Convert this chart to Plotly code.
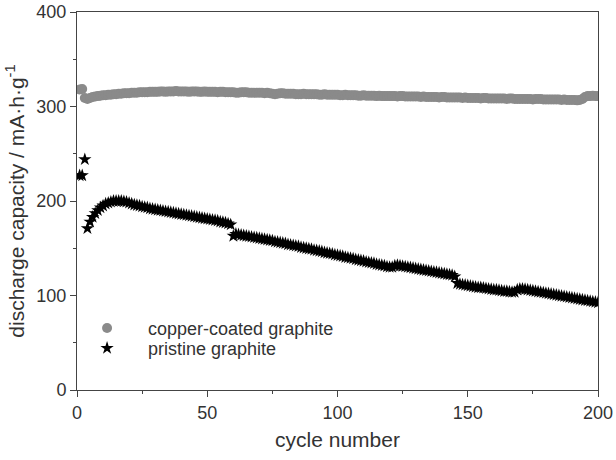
import plotly.graph_objects as go

cycles = list(range(1, 201))

copper_coated = [
    318, 318.5, 309, 308, 309, 310, 310.5, 311, 311.5, 312,
    312, 312.5, 312.5, 313, 313, 313.5, 313.5, 314, 314, 314,
    314.5, 314.5, 314.5, 315, 315, 315, 315, 315.5, 315.5, 315.5,
    315.5, 316, 316, 315.5, 316, 316, 316, 316.5, 316, 316,
    316, 316, 315.5, 316, 316, 316, 315.5, 315.5, 316, 315.5,
    315.5, 315.5, 315.5, 315, 315.5, 315.5, 315, 315, 315, 315,
    314.5, 314.5, 315, 315, 315, 314.5, 314.5, 314.5, 314.5, 314.5,
    314.5, 314, 314.5, 314, 313.5, 313, 313.5, 314, 314, 313.5,
    313.5, 313.5, 313.5, 313, 313, 313, 313.5, 313, 313, 313,
    313, 313, 312.5, 312.5, 313, 312.5, 312.5, 312.5, 312.5, 312.5,
    312, 312, 312.5, 312, 312, 312, 312, 311.5, 311.5, 312,
    311.5, 311.5, 311.5, 311.5, 311, 311.5, 311, 311, 311, 311,
    311, 311, 310.5, 311, 311, 310.5, 310.5, 310.5, 310.5, 310.5,
    310.5, 310, 310.5, 310, 310, 310, 310, 310, 309.5, 310,
    310, 309.5, 309.5, 309.5, 309.5, 309.5, 309.5, 309, 309.5, 309,
    309, 309, 309, 309, 308.5, 309, 309, 308.5, 308.5, 308.5,
    308.5, 308.5, 308.5, 308.5, 308, 308.5, 308.5, 308, 308, 308,
    308, 308, 308, 308, 307.5, 308, 308, 308, 307.5, 307.5,
    307.5, 307.5, 307.5, 307.5, 307.5, 307, 307.5, 307, 307, 307,
    307, 306.5, 307, 308, 310, 311, 311, 311.5, 311, 311,
]

pristine = [
    227, 227, 244, 171, 178, 183, 187, 190, 193, 195,
    197, 198, 199, 200, 200, 200, 200, 199.5, 199, 198,
    197, 196, 195.5, 195, 194, 193.5, 193, 192, 191.5, 191,
    190.5, 190, 189.5, 189, 188.5, 188, 187.5, 187, 186.5, 186,
    185.5, 185, 184.5, 184, 183.5, 183, 182.5, 182, 181.5, 181,
    180.5, 180, 179.5, 179, 178, 177.5, 177, 176, 175, 163,
    165, 164.5, 164, 163.5, 163, 162.5, 162, 161.5, 161, 160.5,
    160, 159.5, 159, 158.5, 158, 157, 156.5, 156, 155.5, 155,
    154, 153.5, 153, 152.5, 152, 151, 150.5, 150, 149.5, 149,
    148, 147.5, 147, 146.5, 145.5, 145, 144.5, 144, 143, 142.5,
    142, 141.5, 140.5, 140, 139.5, 139, 138, 137.5, 137, 136.5,
    135.5, 135, 134.5, 134, 133, 132.5, 132, 131.5, 130.5, 130,
    130, 131.5, 132, 131.5, 131, 130.5, 130, 129.5, 129, 128.5,
    128, 127.5, 127, 126.5, 126, 125.5, 125, 124.5, 124, 123.5,
    123, 122.5, 122, 121.5, 120, 113, 112, 111.5, 111, 110.5,
    110, 109.5, 109, 108.5, 108.5, 108, 107.5, 107, 106.5, 106,
    106, 105.5, 105, 104.5, 104.5, 104, 103.5, 103.5, 106, 107,
    107, 106.5, 106, 105.5, 105, 104.5, 104, 103.5, 103, 102.5,
    102, 101.5, 101, 100.5, 100, 99.5, 99, 98.5, 98, 97.5,
    97, 96.5, 96, 95.5, 95, 94.5, 94, 93.5, 93, 92.5,
]

x_ticks = [0, 50, 100, 150, 200]
y_ticks = [0, 100, 200, 300, 400]

FONT = "Liberation Sans, Arial, sans-serif"
TXT = "#333333"
AX = "#444444"

fig = go.Figure()
fig.add_trace(go.Scatter(
    x=cycles, y=copper_coated, mode="markers", name="copper-coated graphite",
    marker=dict(symbol="circle", size=10, color="#8a8a8a", line=dict(width=0)),
    legend="legend",
))
fig.add_trace(go.Scatter(
    x=cycles, y=pristine, mode="markers", name="pristine graphite",
    marker=dict(symbol="star", size=10, color="#000000", line=dict(width=0)),
    legend="legend2",
))

axis_common = dict(
    showgrid=False, zeroline=False, showline=True, linecolor=AX, linewidth=1,
    mirror=True, ticks="outside", ticklen=6, tickcolor=AX, automargin=False,
    tickfont=dict(family=FONT, size=18, color=TXT),
)

fig.update_xaxes(
    range=[0, 200], tickvals=x_ticks, ticktext=[str(v) for v in x_ticks],
    minor=dict(tickvals=[25, 75, 125, 175], ticks="outside", ticklen=3, tickcolor=AX),
    title=dict(text="cycle number", font=dict(family=FONT, size=21, color=TXT), standoff=10),
    **axis_common,
)
fig.update_yaxes(
    range=[0, 400], tickvals=y_ticks, ticktext=[str(v) for v in y_ticks],
    minor=dict(tickvals=[50, 150, 250, 350], ticks="outside", ticklen=3, tickcolor=AX),
    title=dict(text="discharge capacity / mA·h·g<sup>-1</sup>",
               font=dict(family=FONT, size=21, color=TXT), standoff=6),
    **axis_common,
)

legend_common = dict(
    xanchor="left", yanchor="top", bgcolor="rgba(0,0,0,0)",
    font=dict(family=FONT, size=18, color=TXT), itemsizing="trace", itemwidth=72,
)

fig.update_layout(
    width=616, height=460,
    margin=dict(l=77, r=18, t=12, b=70),
    paper_bgcolor="white", plot_bgcolor="white",
    font=dict(family=FONT, color=TXT),
    legend=dict(x=-0.021, y=0.212, **legend_common),
    legend2=dict(x=-0.021, y=0.159, **legend_common),
    showlegend=True,
)

fig.write_html("out.html", config={"displayModeBar": False},
               post_script="document.body.style.margin='0px';")
